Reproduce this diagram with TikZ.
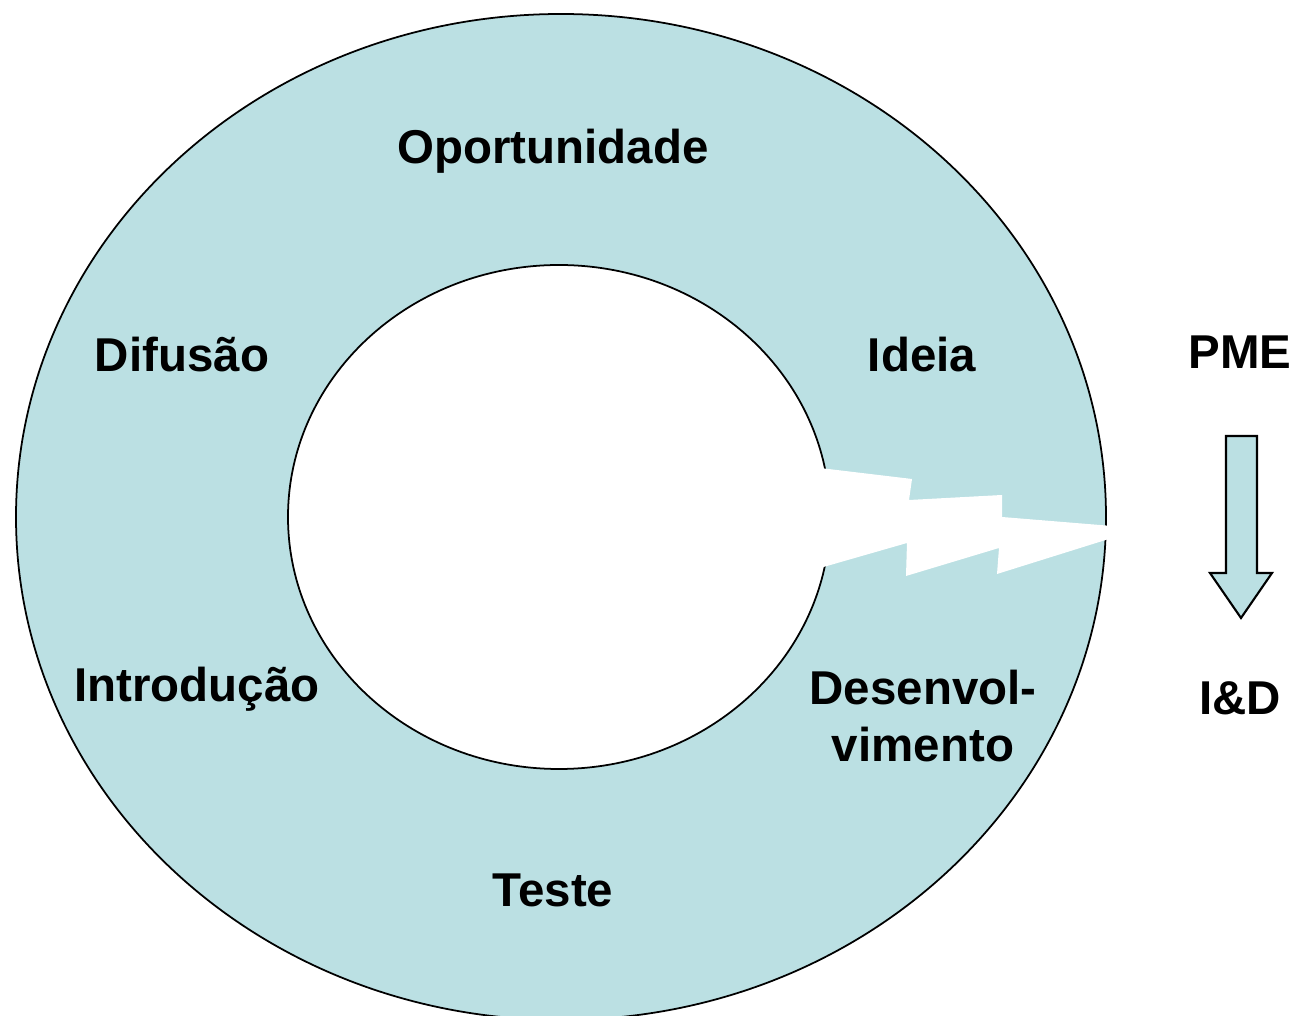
\documentclass[tikz,border=0pt]{standalone}
\usepackage{fontspec}
\setmainfont{Liberation Sans}
\usepackage{tikz}
\usetikzlibrary{arrows.meta}
\definecolor{ringblue}{RGB}{187,224,227}
\tikzset{
  phase/.style={font=\fontsize{13.5}{16}\selectfont\bfseries, align=center, inner sep=0pt},
}

\begin{document}
\begin{tikzpicture}[x=0.01cm, y=-0.01cm]
  \useasboundingbox (0,0) rectangle (1296,1016);
  % Ring
  \fill[ringblue, even odd rule] (561,517) ellipse [x radius=545, y radius=503]
    (559,517) ellipse [x radius=271, y radius=252];
  \draw[line width=0.5pt] (561,517) ellipse [x radius=545, y radius=503];
  \draw[line width=0.5pt] (559,517) ellipse [x radius=271, y radius=252];
  % Zigzag gap
  \fill[white] (820,468) -- (912,479) -- (909,500) -- (1002,495) -- (1002,517)
    -- (1112,526) -- (1112,538) -- (997,574) -- (999,548) -- (906,576)
    -- (907,543) -- (820,568) -- cycle;
  % Phases
  \node[phase] (oport) at (553,151) {Oportunidade};
  \node[phase] (ideia) at (922,355) {Ideia};
  \node[phase] (desenv) at (923,716) {Desenvol-\\vimento};
  \node[phase] (teste) at (553,890) {Teste};
  \node[phase] (intro) at (197,689) {Introdução};
  \node[phase] (difus) at (182,355) {Difusão};
  % PME -> I&D
  \node[phase] (pme) at (1240,352) {PME};
  \node[phase] (id) at (1240,698) {I\&D};
  \filldraw[fill=ringblue, line width=0.6pt] (1226,436) -- (1257,436) -- (1257,573)
    -- (1272,573) -- (1241,618) -- (1210,573) -- (1226,573) -- cycle;
\end{tikzpicture}
\end{document}
